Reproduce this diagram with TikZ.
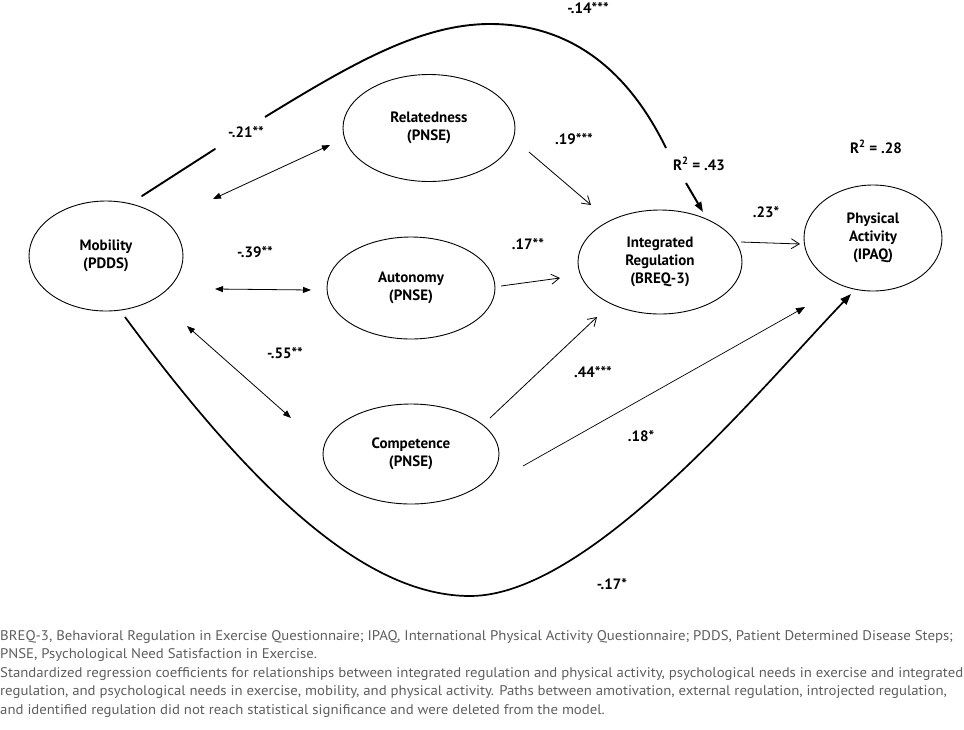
\documentclass[tikz,border=0pt]{standalone}
\usepackage{fontspec}
\usepackage{graphicx}
\setmainfont{PT Sans}
\usetikzlibrary{shapes.geometric,arrows.meta}
\definecolor{capgrey}{HTML}{5E5E5E}
\newlength\capw
\newcommand\capfont{\fontsize{14}{18}\selectfont}
\begin{document}
\settowidth\capw{\capfont Standardized regression coefficients for relationships between integrated regulation and physical activity, psychological needs in exercise and integrated}%
\pgfmathsetmacro\capscale{963/\capw}%
\begin{tikzpicture}[x=1pt,y=-1pt,
  ell/.style={ellipse,draw,line width=0.9pt,inner sep=0pt,align=center,
    font=\fontsize{15}{18}\selectfont\bfseries},
  lab/.style={anchor=base,font=\fontsize{15}{18}\selectfont\bfseries,inner sep=0pt},
  thinline/.style={line width=0.8pt},
  thickline/.style={line width=1.9pt},
  openhead/.style={-{Straight Barb[length=8pt,width=10pt,line width=0.8pt]}},
  dbl/.style={{Triangle[length=8pt,width=6pt]}-{Triangle[length=8pt,width=6pt]}},
  filledhead/.style={-{Triangle[length=10pt,width=7pt]}},
  captionline/.style={anchor=base west,inner sep=0pt,text=capgrey,font=\capfont}]
\useasboundingbox (0,0) rectangle (964,729);

% ellipses
\node[ell,minimum width=154pt,minimum height=110pt] (mob) at (106,256) {Mobility\\(PDDS)};
\node[ell,minimum width=172pt,minimum height=107pt] (rel) at (429,128) {Relatedness\\(PNSE)};
\node[ell,minimum width=168pt,minimum height=102pt] (aut) at (411,288) {Autonomy\\(PNSE)};
\node[ell,minimum width=176pt,minimum height=100pt] (com) at (411,454) {Competence\\(PNSE)};
\node[ell,minimum width=164pt,minimum height=104pt] (ir) at (660,262) {Integrated\\Regulation\\(BREQ-3)};
\node[ell,minimum width=138pt,minimum height=106pt] (pa) at (873,238) {Physical\\Activity\\(IPAQ)};

% connector end points
\coordinate (mr1) at (213,199); \coordinate (mr2) at (330,145);
\coordinate (ma1) at (215,289); \coordinate (ma2) at (311,290);
\coordinate (mc1) at (187,326); \coordinate (mc2) at (291,418);
\coordinate (ri1) at (529,152); \coordinate (ri2) at (591,205);
\coordinate (ai1) at (501,286); \coordinate (ai2) at (560,278);
\coordinate (ci1) at (490,418); \coordinate (ci2) at (597,317);
\coordinate (ip1) at (741,242); \coordinate (ip2) at (800,244);
\coordinate (cp1) at (523,466); \coordinate (cp2) at (805,307);
\coordinate (t1) at (142,196); \coordinate (t2) at (215,149);
\coordinate (t3) at (265,117); \coordinate (ttop) at (490,24); \coordinate (t4) at (666,148);
\coordinate (t5) at (686,183); \coordinate (t6) at (703,212);
\coordinate (b1) at (125,317); \coordinate (bbot) at (470,596); \coordinate (b2) at (851,294);

% correlations
\draw[thinline,dbl] (mr1) -- (mr2);
\draw[thinline,dbl] (ma1) -- (ma2);
\draw[thinline,dbl] (mc1) -- (mc2);

% paths to integrated regulation / physical activity
\draw[thinline,openhead] (ri1) -- (ri2);
\draw[thinline,openhead] (ai1) -- (ai2);
\draw[thinline,openhead] (ci1) -- (ci2);
\draw[thinline,openhead] (ip1) -- (ip2);
\draw[line width=0.7pt,-{Triangle[length=9pt,width=7pt]}] (cp1) -- (cp2);

% top curve mobility -> integrated regulation
\draw[thickline,line cap=round] (t1) -- (t2);
\draw[thickline] (t3) .. controls (350,65) and (420,24) .. (ttop)
  .. controls (590,24) and (640,95) .. (t4);
\draw[line width=2pt,filledhead] (t5) -- (t6);

% bottom curve mobility -> physical activity
\draw[line width=1.7pt,-{Triangle[length=11pt,width=8pt]}] (b1)
  .. controls (260,500) and (370,596) .. (bbot)
  .. controls (590,596) and (760,389) .. (b2);

% labels
\node[lab] (l14) at (588,13) {-.14***};
\node[lab] (l21) at (246,137) {-.21**};
\node[lab] (l39) at (255,257) {-.39**};
\node[lab] (l19) at (574,144) {.19***};
\node[lab] (r43) at (699,170) {R\textsuperscript{2} = .43};
\node[lab] (r28) at (876,153) {R\textsuperscript{2} = .28};
\node[lab] (l23) at (766,217) {.23*};
\node[lab] (l17) at (528,249) {.17**};
\node[lab] (l55) at (285,358) {-.55**};
\node[lab] (l44) at (593,377) {.44***};
\node[lab] (l18) at (641,441) {.18*};
\node[lab] (l17b) at (612,589) {-.17*};

% caption
\node[captionline] (c1) at (0,640) {\scalebox{\capscale}[1]{BREQ-3, Behavioral Regulation in Exercise Questionnaire; IPAQ, International Physical Activity Questionnaire; PDDS, Patient Determined Disease Steps;}};
\node[captionline] (c2) at (0,658.5) {\scalebox{\capscale}[1]{PNSE, Psychological Need Satisfaction in Exercise.}};
\node[captionline] (c3) at (0,677) {\scalebox{\capscale}[1]{Standardized regression coefficients for relationships between integrated regulation and physical activity, psychological needs in exercise and integrated}};
\node[captionline] (c4) at (0,695.5) {\scalebox{\capscale}[1]{regulation, and psychological needs in exercise, mobility, and physical activity. Paths between amotivation, external regulation, introjected regulation,}};
\node[captionline] (c5) at (0,714) {\scalebox{\capscale}[1]{and identified regulation did not reach statistical significance and were deleted from the model.}};
\end{tikzpicture}
\end{document}
